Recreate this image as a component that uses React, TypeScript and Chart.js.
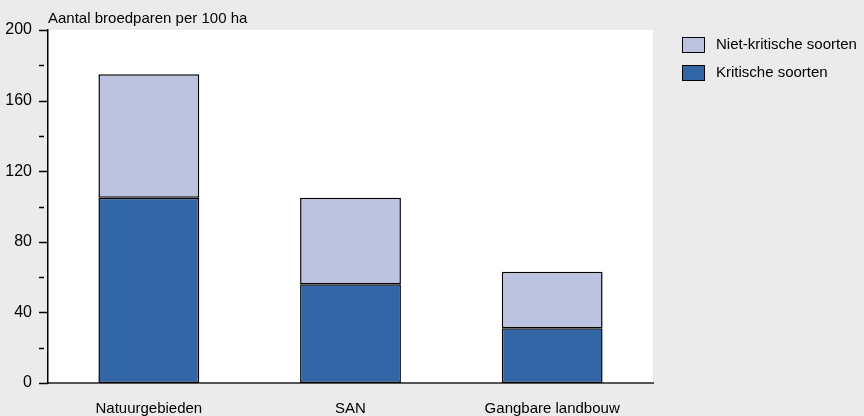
import React, { useEffect, useRef } from "react";
import { Chart, registerables } from "chart.js";

Chart.register(...registerables);

const categories = ["Natuurgebieden", "SAN", "Gangbare landbouw"];
const kritisch = [105, 56, 31];
const nietKritisch = [70, 49, 32];
const yTickValues = [0, 20, 40, 60, 80, 100, 120, 140, 160, 180, 200];
const yLabelValues = [0, 40, 80, 120, 160, 200];
const axisTitle = "Aantal broedparen per 100 ha";
const seriesNames = ["Kritische soorten", "Niet-kritische soorten"];

const FONT = "'Liberation Sans', Arial, sans-serif";

export default function App() {
  const ref = useRef<HTMLCanvasElement | null>(null);

  useEffect(() => {
    const canvas = ref.current;
    if (!canvas) return;

    const decor = {
      id: "decor",
      beforeDraw(chart: any) {
        const { ctx, chartArea } = chart;
        ctx.save();
        ctx.fillStyle = "#ebebeb";
        ctx.fillRect(0, 0, chart.width, chart.height);
        ctx.fillStyle = "#ffffff";
        ctx.fillRect(chartArea.left, chartArea.top, chartArea.right - chartArea.left, chartArea.bottom - chartArea.top);
        ctx.restore();
      },
      afterDraw(chart: any) {
        const { ctx, chartArea } = chart;
        const y = chart.scales.y;
        ctx.save();
        ctx.strokeStyle = "#000";
        ctx.lineWidth = 1.5;
        yTickValues.forEach((v) => {
          const py = Math.round(y.getPixelForValue(v)) + 0.5;
          const major = yLabelValues.includes(v);
          ctx.beginPath();
          ctx.moveTo(chartArea.left - 9, py);
          ctx.lineTo(major ? chartArea.left : chartArea.left - 4, py);
          ctx.stroke();
        });
        ctx.fillStyle = "#000";
        ctx.font = `15px ${FONT}`;
        ctx.textBaseline = "alphabetic";
        ctx.textAlign = "left";
        ctx.fillText(axisTitle, chartArea.left, 23);
        const ds = chart.data.datasets.slice().reverse();
        ds.forEach((d: any, i: number) => {
          const top = 37 + i * 28;
          ctx.fillStyle = d.backgroundColor;
          ctx.fillRect(682, top, 22, 15);
          ctx.strokeStyle = "#000";
          ctx.lineWidth = 1;
          ctx.strokeRect(682.5, top + 0.5, 22, 15);
          ctx.fillStyle = "#000";
          ctx.textBaseline = "middle";
          ctx.fillText(d.label, 716, top + 8);
        });
        ctx.restore();
      },
    };

    const chart = new Chart(canvas, {
      type: "bar",
      data: {
        labels: categories,
        datasets: [
          {
            label: seriesNames[0],
            data: kritisch,
            backgroundColor: "#3366a6",
            borderColor: "#000",
            borderWidth: 1.5,
            borderSkipped: false,
          },
          {
            label: seriesNames[1],
            data: nietKritisch,
            backgroundColor: "#bcc3e0",
            borderColor: "#000",
            borderWidth: 1.5,
            borderSkipped: false,
          },
        ],
      },
      options: {
        responsive: false,
        animation: false,
        devicePixelRatio: 1,
        layout: { padding: { top: 30, right: 211, left: 0, bottom: 0 } },
        plugins: {
          legend: { display: false },
          tooltip: { enabled: false },
        },
        datasets: {
          bar: { categoryPercentage: 1, barPercentage: 0.5 },
        },
        scales: {
          x: {
            stacked: true,
            grid: { display: false, drawTicks: false },
            border: { display: true, color: "#555", width: 2 },
            ticks: {
              color: "#000",
              font: { family: FONT, size: 15 },
              padding: 17,
              maxRotation: 0,
            },
            afterFit(scale: any) {
              scale.height = 33;
            },
          },
          y: {
            stacked: true,
            min: 0,
            max: 200,
            grid: { display: false, drawTicks: false },
            border: { display: true, color: "#000", width: 1.5 },
            ticks: {
              stepSize: 40,
              color: "#000",
              font: { family: FONT, size: 16 },
              padding: 16,
            },
            afterFit(scale: any) {
              scale.width = 48;
            },
          },
        },
      },
      plugins: [decor],
    });

    return () => chart.destroy();
  }, []);

  return (
    <div style={{ position: "absolute", left: 0, top: 0, width: 864, height: 416 }}>
      <canvas ref={ref} width={864} height={416} style={{ display: "block" }} />
    </div>
  );
}
